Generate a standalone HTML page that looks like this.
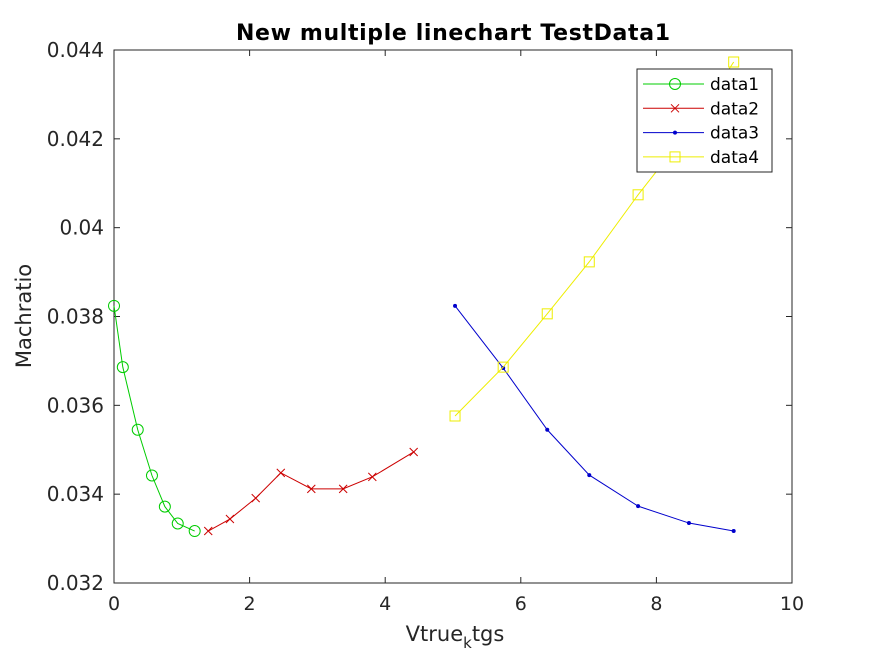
<!DOCTYPE html>
<html><head><meta charset="utf-8"><style>body{margin:0;background:#fff}svg{display:block;font-family:"DejaVu Sans","Liberation Sans",sans-serif}</style></head>
<body>
<svg id="c" width="875" height="656">
<rect x="0" y="0" width="875" height="656" fill="#fff"/>
</svg>
<script>
const xTicks=[0,2,4,6,8,10];
const yTicks=[0.032,0.034,0.036,0.038,0.04,0.042,0.044];
const yTickLabels=["0.032","0.034","0.036","0.038","0.04","0.042","0.044"];
const d1x=[0,0.13,0.35,0.56,0.75,0.94,1.19];
const d1y=[0.03824,0.03686,0.03545,0.03442,0.03372,0.03334,0.03317];
const d2x=[1.39,1.71,2.09,2.46,2.91,3.38,3.81,4.42];
const d2y=[0.03317,0.03344,0.03391,0.03448,0.03412,0.03412,0.03439,0.03495];
const d3x=[5.03,5.74,6.39,7.01,7.73,8.48,9.14];
const d3y=[0.03824,0.03684,0.03545,0.03443,0.03373,0.03335,0.03317];
const d4x=[5.03,5.74,6.39,7.01,7.73,8.48,9.14];
const d4y=[0.03576,0.03686,0.03806,0.03923,0.04074,0.0422,0.04373];
const seriesNames=["data1","data2","data3","data4"];
const NS="http://www.w3.org/2000/svg",svg=document.getElementById('c');
const L=114,R=792,T=50,B=583;
const sx=v=>L+(v-0)/(10-0)*(R-L);
const sy=v=>B-(v-0.032)/(0.044-0.032)*(B-T);
function el(t,a,p){const e=document.createElementNS(NS,t);for(const k in a)e.setAttribute(k,a[k]);(p||svg).appendChild(e);return e;}
function txt(x,y,s,a){const e=el('text',Object.assign({x:x,y:y},a));e.textContent=s;return e;}
const ax=el('rect',{x:L,y:T,width:R-L,height:B-T,fill:'#fff',stroke:'#262626','stroke-width':1});


xTicks.forEach(v=>{const x=sx(v);el('line',{x1:x,x2:x,y1:B,y2:B-6,stroke:'#262626'});el('line',{x1:x,x2:x,y1:T,y2:T+6,stroke:'#262626'});
const t=txt(x,610,String(v),{'text-anchor':'middle','font-size':19,fill:'#262626'});

});
yTicks.forEach((v,i)=>{const y=sy(v);el('line',{x1:L,x2:L+6,y1:y,y2:y,stroke:'#262626'});el('line',{x1:R,x2:R-6,y1:y,y2:y,stroke:'#262626'});
const t=txt(104,y+7,yTickLabels[i],{'text-anchor':'end','font-size':20,fill:'#262626'});

});
const ti=txt(453,40,"New multiple linechart TestData1",{'text-anchor':'middle','font-size':22,'font-weight':'bold',fill:'#000',textLength:434});


const xt=el('text',{x:455,y:641,'text-anchor':'middle','font-size':21,fill:'#262626'});
xt.innerHTML='Vtrue<tspan dy="7" font-size="15">k</tspan><tspan dy="-7">tgs</tspan>';


const yt=txt(0,0,"Machratio",{'text-anchor':'middle','font-size':21,fill:'#262626',transform:'translate(31,316) rotate(-90)'});


const cols=['#00cc00','#cc0000','#0000cc','#eeee00'];
function marker(k,x,y,g){const c=cols[k];
if(k===0)el('circle',{cx:x,cy:y,r:5.5,fill:'none',stroke:c},g);
else if(k===1){el('line',{x1:x-4,y1:y-4,x2:x+4,y2:y+4,stroke:c},g);el('line',{x1:x-4,y1:y+4,x2:x+4,y2:y-4,stroke:c},g);}
else if(k===2)el('circle',{cx:x,cy:y,r:2,fill:c},g);
else el('rect',{x:x-5,y:y-5,width:10,height:10,fill:'none',stroke:c},g);}
[[d1x,d1y],[d2x,d2y],[d3x,d3y],[d4x,d4y]].forEach((d,k)=>{
const g=el('g',{});


el('polyline',{points:d[0].map((x,i)=>sx(x)+','+sy(d[1][i])).join(' '),fill:'none',stroke:cols[k],'stroke-width':1},g);
d[0].forEach((x,i)=>marker(k,sx(x),sy(d[1][i]),g));});
const lg=el('g',{});


el('rect',{x:637,y:69,width:135,height:103,fill:'#fff',stroke:'#262626'},lg);
seriesNames.forEach((n,k)=>{const y=84+k*24.3;const g=el('g',{},lg);


el('line',{x1:643,x2:704,y1:y,y2:y,stroke:cols[k]},g);marker(k,675,y,g);
txt(710,y+6,n,{'font-size':17,fill:'#000'},g);});
</script>
</body></html>
